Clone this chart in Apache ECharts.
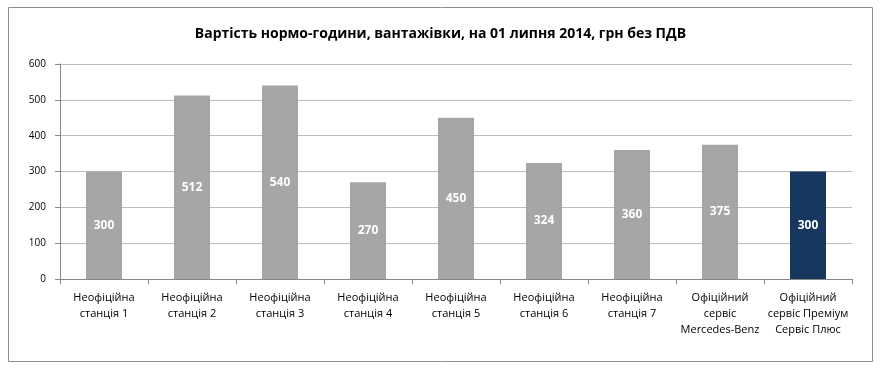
<!DOCTYPE html>
<html>
<head>
<meta charset="utf-8">
<script src="https://cdn.jsdelivr.net/npm/echarts@6/dist/echarts.min.js"></script>
<style>html,body{margin:0;padding:0;background:#fff}#c{width:881px;height:370px}</style>
</head>
<body>
<div id="c"></div>
<script>
const categories = [
  'Неофіційна\nстанція 1',
  'Неофіційна\nстанція 2',
  'Неофіційна\nстанція 3',
  'Неофіційна\nстанція 4',
  'Неофіційна\nстанція 5',
  'Неофіційна\nстанція 6',
  'Неофіційна\nстанція 7',
  'Офіційний\nсервіс\nMercedes-Benz',
  'Офіційний\nсервіс Преміум\nСервіс Плюс'
];
const values = [300, 512, 540, 270, 450, 324, 360, 375, 300];
const highlightIndex = 8;
const yTicks = [0, 100, 200, 300, 400, 500, 600];

const chart = echarts.init(document.getElementById('c'));
const font = '"Open Sans", "Noto Sans", sans-serif';
chart.setOption({
  animation: false,
  title: {
    text: 'Вартість нормо-години, вантажівки, на 01 липня 2014, грн без ПДВ',
    left: 'center', top: 22,
    textStyle: { fontFamily: font, fontSize: 14, fontWeight: 'bold', color: '#000' }
  },
  graphic: [{
    type: 'rect', shape: { x: 8.5, y: 7.5, width: 864, height: 354 },
    style: { fill: 'none', stroke: '#8c8c8c', lineWidth: 1 }, silent: true
  }],
  grid: { left: 60, right: 29, top: 64, bottom: 91 },
  xAxis: {
    type: 'category', data: categories,
    axisLine: { lineStyle: { color: '#868686' } },
    axisTick: { show: true, length: 5, lineStyle: { color: '#868686' } },
    axisLabel: { fontFamily: font, fontSize: 11, color: '#000', lineHeight: 16, margin: 11, interval: 0 }
  },
  yAxis: {
    type: 'value', min: yTicks[0], max: yTicks[yTicks.length - 1], interval: 100,
    axisLine: { show: true, lineStyle: { color: '#868686' } },
    axisTick: { show: true, length: 5, lineStyle: { color: '#868686' } },
    axisLabel: { fontFamily: font, fontSize: 10, color: '#000', margin: 14 },
    splitLine: { lineStyle: { color: '#bdbdbd', width: 1 } }
  },
  series: [{
    type: 'bar',
    data: values.map((v, i) => ({
      value: v,
      itemStyle: { color: i === highlightIndex ? '#17375e' : '#a6a6a6' }
    })),
    barWidth: 36,
    label: {
      show: true, position: 'inside',
      fontFamily: font, fontSize: 12, fontWeight: 'bold', color: '#fff'
    }
  }]
});
</script>
</body>
</html>
